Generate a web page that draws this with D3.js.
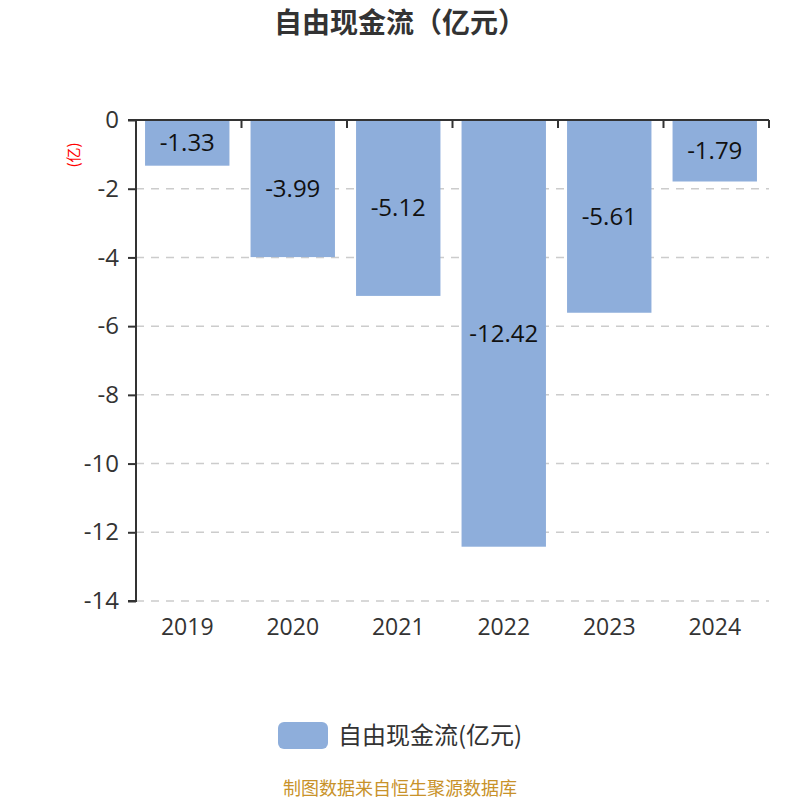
<!DOCTYPE html>
<html>
<head>
<meta charset="utf-8">
<script src="https://cdn.jsdelivr.net/npm/d3@7"></script>
<style>
  body { margin: 0; background: #fff; }
  svg { font-family: "Open Sans", "Noto Sans CJK SC", sans-serif; }
</style>
</head>
<body>
<div id="chart"></div>
<script>
// data
let years = ["2019", "2020", "2021", "2022", "2023", "2024"];
let values = [-1.33, -3.99, -5.12, -12.42, -5.61, -1.79];
let yTicks = [0, -2, -4, -6, -8, -10, -12, -14];

let width = 800;
let height = 800;
let plotLeft = 136, plotRight = 769, plotTop = 120, plotBottom = 601;
let barColor = "#8eaedb";
let cjk = "'Noto Sans CJK SC', sans-serif";

let svg = d3.select("#chart").append("svg")
  .attr("width", width)
  .attr("height", height);

let x = d3.scaleBand()
  .domain(years)
  .range([plotLeft, plotRight])
  .paddingInner(0.2)
  .paddingOuter(0.1);

let y = d3.scaleLinear()
  .domain([0, -14])
  .range([plotTop, plotBottom]);

// title
svg.append("text")
  .attr("x", width / 2)
  .attr("y", 33)
  .attr("text-anchor", "middle")
  .style("font-family", cjk)
  .style("font-size", "28px")
  .style("font-weight", "bold")
  .style("fill", "#333")
  .text("自由现金流（亿元）");

// grid lines
svg.selectAll(".grid")
  .data(yTicks.filter(function(d){ return d != 0 }))
  .join("line")
  .attr("class", "grid")
  .attr("x1", plotLeft)
  .attr("x2", plotRight)
  .attr("y1", function(d){ return y(d) })
  .attr("y2", function(d){ return y(d) })
  .style("stroke", "#ccc")
  .style("stroke-width", 1.5)
  .style("stroke-dasharray", "8,7");

// bars
svg.selectAll(".bar")
  .data(values)
  .join("rect")
  .attr("class", "bar")
  .attr("x", function(d, i){ return x(years[i]) - 1.5 })
  .attr("width", x.bandwidth())
  .attr("y", y(0))
  .attr("height", function(d){ return y(d) - y(0) })
  .style("fill", barColor);

// bar labels
svg.selectAll(".barlabel")
  .data(values)
  .join("text")
  .attr("class", "barlabel")
  .attr("x", function(d, i){ return x(years[i]) - 1.5 + x.bandwidth() / 2 })
  .attr("y", function(d){ return (y(d) + y(0)) / 2 })
  .attr("dy", "0.35em")
  .attr("text-anchor", "middle")
  .style("font-size", "24px")
  .style("fill", "#111")
  .text(function(d){ return d.toFixed(2) });

// y axis
let yAxis = svg.append("g")
  .attr("transform", `translate(${plotLeft},0)`)
  .call(d3.axisLeft(y).tickValues(yTicks).tickSize(8).tickPadding(9).tickFormat(d3.format("d")));
yAxis.select(".domain").attr("d", `M-8,${plotTop}H0V${plotBottom}H-8`).style("stroke", "#333").style("stroke-width", 2);
yAxis.selectAll(".tick line").style("stroke", "#333").style("stroke-width", 2);
yAxis.selectAll(".tick text")
  .style("font-size", "24px")
  .style("fill", "#333")
  .style("font-family", "'Open Sans', sans-serif")
  .text(function(d){ return d == 0 ? "0" : "-" + Math.abs(d) });

// x axis at zero, ticks pointing down between bands
let xAxis = svg.append("g");
xAxis.append("line")
  .attr("x1", plotLeft).attr("x2", plotRight)
  .attr("y1", y(0)).attr("y2", y(0))
  .style("stroke", "#333").style("stroke-width", 2);
let edges = years.map(function(d){ return x(d) - x.step() * x.paddingInner() / 2 });
edges.push(plotRight);
xAxis.selectAll(".xtick")
  .data(edges)
  .join("line")
  .attr("class", "xtick")
  .attr("x1", function(d){ return d }).attr("x2", function(d){ return d })
  .attr("y1", y(0)).attr("y2", y(0) + 8)
  .style("stroke", "#333").style("stroke-width", 2);

// category labels under the plot
svg.selectAll(".xlabel")
  .data(years)
  .join("text")
  .attr("class", "xlabel")
  .attr("x", function(d){ return x(d) + x.bandwidth() / 2 - 1.5 })
  .attr("y", 635)
  .attr("text-anchor", "middle")
  .style("font-size", "23px")
  .style("fill", "#333")
  .text(function(d){ return d });

// unit label
svg.append("text")
  .attr("transform", "translate(79,155) rotate(-90)")
  .attr("text-anchor", "middle")
  .style("font-family", cjk)
  .style("font-size", "15px")
  .style("fill", "red")
  .text("(亿)");

// legend
svg.append("rect")
  .attr("x", 278).attr("y", 722)
  .attr("width", 50).attr("height", 27)
  .attr("rx", 6)
  .style("fill", barColor);
svg.append("text")
  .attr("x", 338).attr("y", 744)
  .style("font-family", cjk)
  .style("font-size", "24px")
  .style("fill", "#333")
  .text("自由现金流(亿元)");

// footer
svg.append("text")
  .attr("x", width / 2).attr("y", 795)
  .attr("text-anchor", "middle")
  .style("font-family", cjk)
  .style("font-size", "18px")
  .style("fill", "#c8922a")
  .text("制图数据来自恒生聚源数据库");
</script>
</body>
</html>
